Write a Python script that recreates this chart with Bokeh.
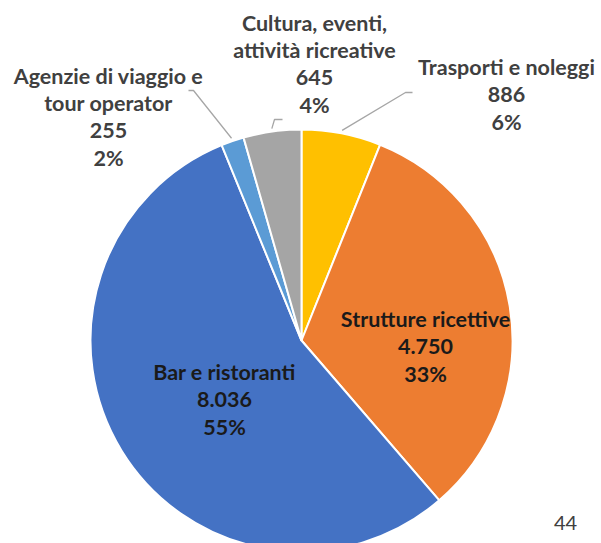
import numpy as np
from bokeh.plotting import figure
from bokeh.models import Range1d, ColumnDataSource
from bokeh.core.properties import value
from bokeh.embed import file_html
from bokeh.resources import INLINE

# ---- data ----
categories = ["Trasporti e noleggi", "Strutture ricettive", "Bar e ristoranti",
              "Agenzie di viaggio e tour operator", "Cultura, eventi, attività ricreative"]
label_lines = [["Trasporti e noleggi"], ["Strutture ricettive"], ["Bar e ristoranti"],
               ["Agenzie di viaggio e", "tour operator"], ["Cultura, eventi,", "attività ricreative"]]
values = [886, 4750, 8036, 255, 645]
colors = ["#FFC000", "#ED7D31", "#4472C4", "#5B9BD5", "#A5A5A5"]
page_number = "44"

# ---- layout (page pixel coordinates) ----
W, H = 601, 543
CX, CY, R = 301, 340, 211
label_pos = [(506, 66), (425, 318), (224, 371), (108, 75), (314, 22)]
inside = [False, True, True, False, False]
elbows = {0: [(412, 92), (405, 92)], 3: [(188, 90), (193, 90)], 4: [(282, 119), (274, 119)]}
LINE_H = 27.5
FS = "21.5px"

def Y(py):
    return 543 - py

p = figure(width=W, height=H, output_backend="svg", toolbar_location=None,
           x_range=Range1d(0, W), y_range=Range1d(543 - H, 543),
           min_border=0, outline_line_color=None, background_fill_color="white",
           border_fill_color="white")
p.axis.visible = False
p.grid.visible = False

vals = np.array(values, dtype=float)
total = vals.sum()
frac = vals / total
cum = np.cumsum(frac)
start = 90 - (cum - frac) * 360
end = 90 - cum * 360
mid = (start + end) / 2

src = ColumnDataSource(dict(start=start, end=end, color=colors, cat=categories))
p.wedge(x=CX, y=Y(CY), radius=R, start_angle="start", end_angle="end",
        start_angle_units="deg", end_angle_units="deg", direction="clock",
        fill_color="color", line_color="white", line_width=2, source=src)

# leader lines
for i, pts in elbows.items():
    a = np.deg2rad(mid[i])
    ex = CX + (R + 3) * np.cos(a)
    ey = CY - (R + 3) * np.sin(a)
    xs = [pt[0] for pt in pts] + [ex]
    ys = [Y(pt[1]) for pt in pts] + [Y(ey)]
    p.line(xs, ys, line_color="#A6A6A6", line_width=1.3)

# labels
tx, ty, tt, tc = [], [], [], []
for i, lines in enumerate(label_lines):
    v = values[i]
    pct = int(round(v / total * 100))
    all_lines = lines + [f"{v:,}".replace(",", "."), f"{pct}%"]
    lx, ly = label_pos[i]
    for k, s in enumerate(all_lines):
        tx.append(lx)
        ty.append(Y(ly + k * LINE_H))
        tt.append(s)
        tc.append("#1a1a1a" if inside[i] else "#404040")

p.text(x=tx, y=ty, text=tt, text_color=tc, text_align="center", text_baseline="middle",
       text_font=value("Lato"), text_font_style="bold", text_font_size=FS)

p.text(x=[565], y=[Y(522)], text=[page_number], text_color="#404040", text_align="center",
       text_baseline="middle", text_font=value("Lato"), text_font_size="20px")

open("out.html", "w").write(file_html(p, INLINE))
